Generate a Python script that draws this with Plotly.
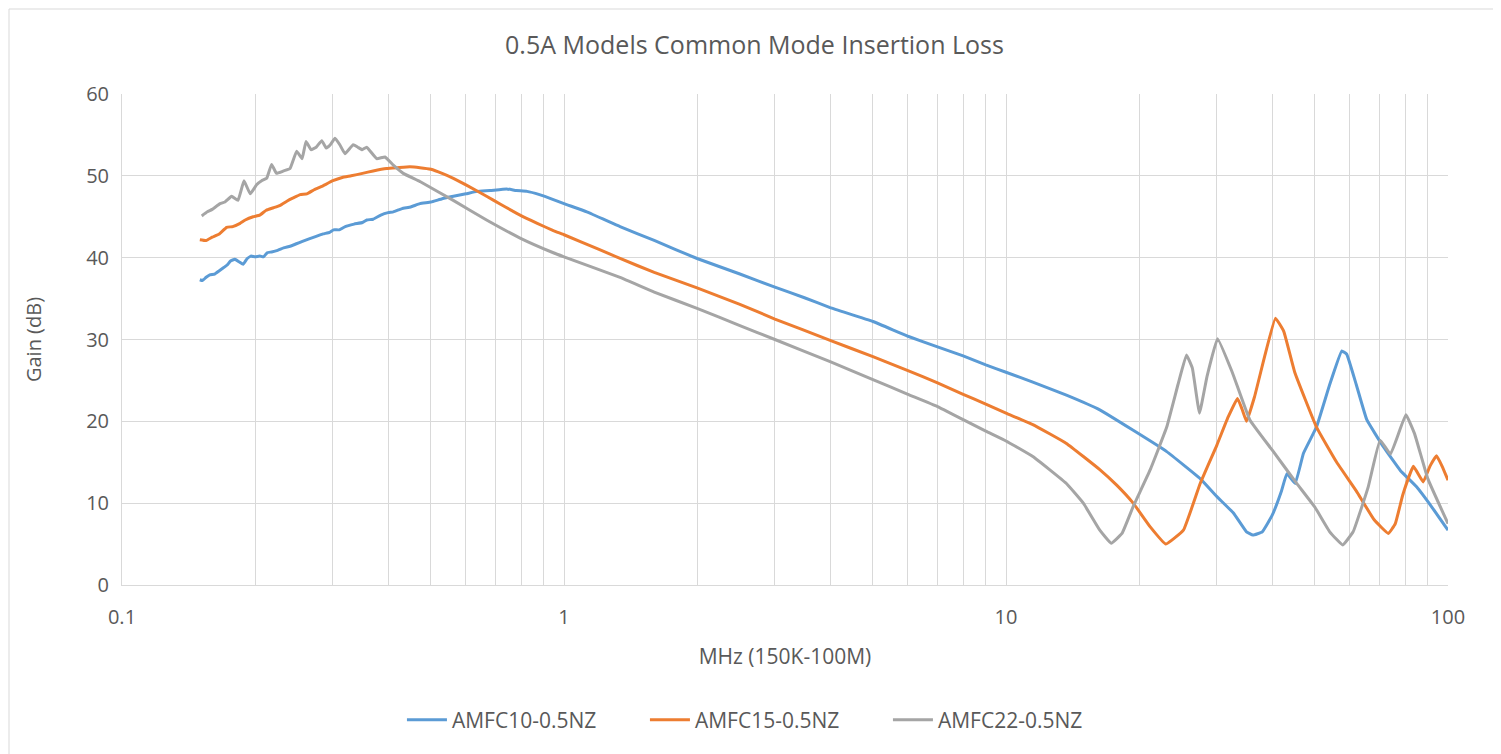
import plotly.graph_objects as go

title = "0.5A Models Common Mode Insertion Loss"
series_names = ["AMFC10-0.5NZ", "AMFC15-0.5NZ", "AMFC22-0.5NZ"]
colors = ["#5B9BD5", "#ED7D31", "#A5A5A5"]

f_blue = [0.150, 0.152, 0.155, 0.158, 0.162, 0.166, 0.169, 0.173, 0.176, 0.180, 0.184, 0.188, 0.192, 0.196,
          0.200, 0.205, 0.209, 0.213, 0.218, 0.225, 0.232, 0.240, 0.248, 0.256, 0.265, 0.275, 0.285, 0.295,
          0.301, 0.310, 0.320, 0.335, 0.350, 0.358, 0.370, 0.385, 0.400, 0.411, 0.430, 0.450, 0.472, 0.50,
          0.53, 0.562, 0.60, 0.635, 0.68, 0.742, 0.78, 0.825, 0.88, 0.946, 1.0, 1.126, 1.339, 1.6, 2.0, 2.5,
          3.0, 3.5, 4.0, 5.0, 6.0, 7.0, 8.0, 9.0, 10, 11.5, 13.7, 16.3, 19.4, 23.1, 27.5, 30, 32.7, 35, 36.2,
          38, 40, 42, 43.2, 45.1, 47.1, 50.4, 54, 57.5, 59, 62, 65.5, 71.4, 78, 84.9, 92, 100]
v_blue = [37.3, 37.2, 37.6, 37.9, 38.0, 38.4, 38.7, 39.1, 39.6, 39.8, 39.5, 39.2, 39.9, 40.2,
          40.1, 40.2, 40.1, 40.6, 40.7, 40.9, 41.2, 41.4, 41.7, 42.0, 42.3, 42.6, 42.9, 43.1,
          43.4, 43.4, 43.8, 44.1, 44.3, 44.6, 44.7, 45.2, 45.5, 45.6, 46.0, 46.2, 46.6, 46.8,
          47.2, 47.5, 47.8, 48.1, 48.2, 48.4, 48.2, 48.1, 47.7, 47.1, 46.6, 45.6, 43.8, 42.1, 39.9, 38.0,
          36.4, 35.1, 33.9, 32.2, 30.4, 29.1, 28.0, 26.9, 26.0, 24.8, 23.2, 21.4, 18.9, 16.3, 13.0, 10.8, 8.8, 6.5, 6.1,
          6.5, 8.5, 11.5, 13.6, 12.4, 16.1, 19.3, 24.5, 28.6, 28.2, 24.5, 20.2, 16.9, 14.0, 12.0, 9.5, 6.7]

f_orange = [0.150, 0.155, 0.160, 0.166, 0.1725, 0.178, 0.185, 0.190, 0.198, 0.205, 0.212, 0.220, 0.228, 0.236,
            0.244, 0.253, 0.262, 0.272, 0.283, 0.300, 0.315, 0.330, 0.350, 0.370, 0.397, 0.420, 0.448, 0.472,
            0.50, 0.53, 0.562, 0.60, 0.668, 0.72, 0.7955, 0.87, 0.946, 1.0, 1.2, 1.339, 1.6, 2.0, 2.5, 3.0,
            4.0, 5.0, 6.0, 7.0, 8.0, 9.0, 10, 11.5, 13.7, 16.3, 17.8, 19.4, 21.2, 23.0, 25.2, 27.5, 30.0, 31.8,
            33.4, 34.2, 35.0, 36.5, 38.5, 40.7, 42.5, 45, 50.4, 56, 62, 68, 73.3, 76, 79, 83.5, 87.9, 91, 94.2, 97, 100]
v_orange = [42.2, 42.1, 42.5, 42.9, 43.7, 43.8, 44.2, 44.6, 45.0, 45.2, 45.8, 46.1, 46.4, 46.9,
            47.3, 47.7, 47.8, 48.3, 48.7, 49.4, 49.8, 50.0, 50.3, 50.6, 50.9, 51.0, 51.1, 51.0,
            50.8, 50.3, 49.7, 48.9, 47.5, 46.5, 45.2, 44.2, 43.3, 42.8, 41.0, 39.9, 38.2, 36.3, 34.3, 32.5,
            29.9, 27.9, 26.2, 24.7, 23.3, 22.1, 21.0, 19.6, 17.3, 14.1, 12.2, 10.0, 7.1, 5.0, 6.7, 12.4, 17.1, 20.5,
            22.8, 21.5, 20.0, 23.0, 28.0, 32.6, 31.0, 26.0, 19.3, 15.0, 11.5, 8.0, 6.3, 7.5, 11.0, 14.5, 12.6, 14.5, 15.8, 14.5, 12.8]

f_gray = [0.1515, 0.156, 0.160, 0.1667, 0.171, 0.177, 0.183, 0.1888, 0.195, 0.2016, 0.207, 0.2125, 0.218, 0.2236,
          0.232, 0.240, 0.2484, 0.2555, 0.2608, 0.2677, 0.275, 0.2831, 0.2898, 0.296, 0.3033, 0.311, 0.3195,
          0.3336, 0.3415, 0.3495, 0.3578, 0.3769, 0.3936, 0.411, 0.4328, 0.4722, 0.5617, 0.668, 0.7955, 0.946,
          1.0, 1.339, 1.6, 2.0, 2.5, 3.0, 4.0, 5.0, 6.0, 7.0, 8.0, 9.0, 10, 11.5, 13.7, 14.96, 16.3, 17.3, 18.3,
          19.4, 21.2, 23.1, 24.5, 25.6, 26.4, 27.4, 28.5, 30.1, 32.5, 35.6, 40, 45.5, 50, 54, 57.8, 61, 66,
          70.2, 74.1, 80.3, 84, 90, 100]
v_gray = [45.1, 45.6, 45.9, 46.6, 46.8, 47.5, 47.0, 49.4, 47.8, 48.9, 49.4, 49.7, 51.4, 50.3,
          50.6, 50.9, 53.0, 52.1, 54.2, 53.2, 53.5, 54.3, 53.4, 53.8, 54.6, 53.8, 52.7,
          53.8, 53.5, 53.2, 53.5, 52.1, 52.3, 51.3, 50.3, 49.3, 47.0, 44.6, 42.4, 40.6,
          40.1, 37.6, 35.8, 33.8, 31.7, 30.0, 27.3, 25.1, 23.3, 21.8, 20.2, 18.8, 17.6, 15.7, 12.4, 10.0, 6.7, 5.1, 6.3,
          9.6, 14.1, 19.3, 24.5, 28.1, 26.5, 21.0, 25.5, 30.1, 26.0, 20.2, 16.5, 12.4, 9.5, 6.5, 4.9, 6.5, 12.0,
          17.7, 16.0, 20.8, 18.5, 13.0, 7.5]

x_major = [0.1, 1, 10, 100]
x_major_text = ["0.1", "1", "10", "100"]
x_minor = [m * d for d in (0.1, 1, 10) for m in range(2, 10)]
y_ticks = [0, 10, 20, 30, 40, 50, 60]

fig = go.Figure()
for name, c, fx, fy in zip(series_names, colors, [f_blue, f_orange, f_gray], [v_blue, v_orange, v_gray]):
    fig.add_trace(go.Scatter(x=fx, y=fy, mode="lines", name=name,
                             line=dict(color=c, width=3, shape="spline", smoothing=0.3)))

font_family = "Open Sans, Liberation Sans, sans-serif"
text_color = "#595959"
grid_color = "#D9D9D9"

W, H = 1493, 746
fig.update_layout(
    width=W, height=H,
    paper_bgcolor="white", plot_bgcolor="white",
    margin=dict(l=114, r=53, t=86, b=169),
    title=dict(text=title, x=0.5, xref="container", y=1 - 37 / H, yref="container",
               xanchor="center", yanchor="middle",
               font=dict(family=font_family, size=25, color=text_color)),
    font=dict(family=font_family, color=text_color),
    showlegend=True,
    legend=dict(orientation="h", x=0.508, xanchor="center", xref="container",
                y=1 - 712 / H, yref="container", yanchor="middle",
                font=dict(family=font_family, size=21, color=text_color), itemwidth=40,
                entrywidth=188, tracegroupgap=0),
    xaxis=dict(type="log", range=[-1, 2], tickvals=x_major, ticktext=x_major_text,
               showgrid=True, gridcolor=grid_color, gridwidth=1,
               minor=dict(tickvals=x_minor, showgrid=True, gridcolor=grid_color, gridwidth=1, ticks=""),
               showline=True, linecolor=grid_color, linewidth=1, ticks="",
               ticklabelstandoff=14,
               tickfont=dict(size=20, color=text_color),
               title=dict(text="MHz (150K-100M)", font=dict(size=21, color=text_color), standoff=20),
               zeroline=False),
    yaxis=dict(range=[0, 60], tickvals=y_ticks, showgrid=True, gridcolor=grid_color, gridwidth=1,
               showline=True, linecolor=grid_color, linewidth=1, ticks="",
               ticklabelstandoff=8,
               tickfont=dict(size=20, color=text_color),
               title=dict(text="Gain (dB)", font=dict(size=20, color=text_color), standoff=39),
               zeroline=False),
    shapes=[dict(type="rect", xref="paper", yref="paper",
                 x0=(1 - 114) / 1326, x1=(1487 - 114) / 1326,
                 y0=(491 - 740) / 491, y1=(491 + 85) / 491,
                 line=dict(color="#D9D9D9", width=1), fillcolor="rgba(0,0,0,0)", layer="below")],
)

fig.write_html("out.html")
